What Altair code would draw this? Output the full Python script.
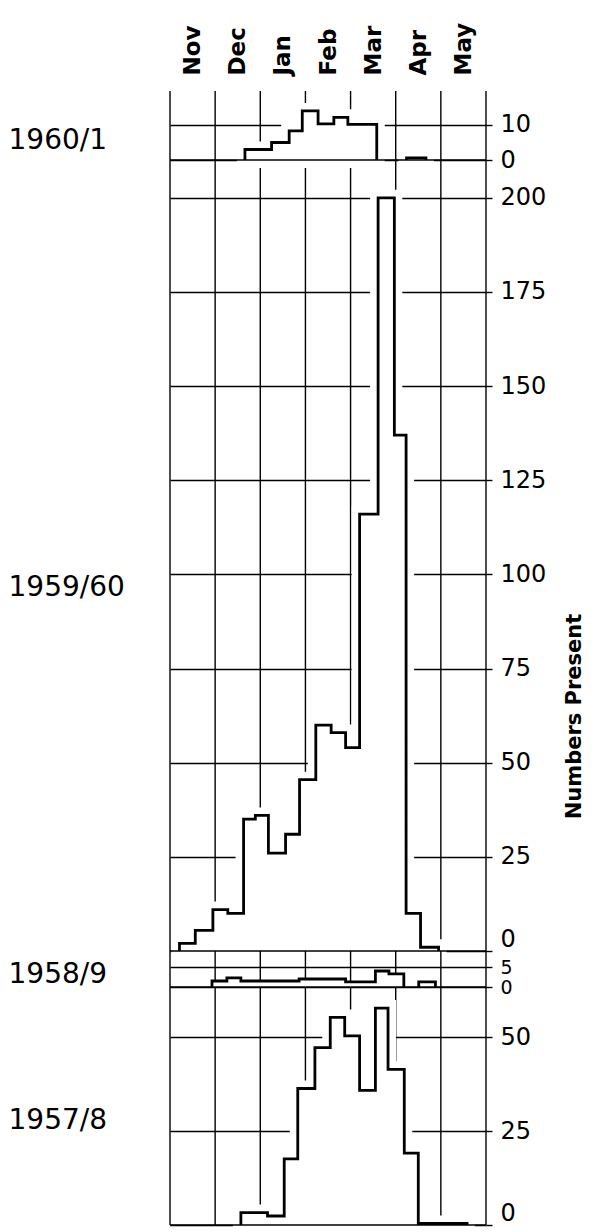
import json
import altair as alt
import pandas as pd

# ---------------- data ----------------
months = ["Nov", "Dec", "Jan", "Feb", "Mar", "Apr", "May"]
seasons = ["1960/1", "1959/60", "1958/9", "1957/8"]

# interval boundaries in month units (0 = start of Nov) and counts per interval
s1960_x = [1.66, 2.25, 2.64, 2.93, 3.28, 3.63, 3.94, 4.58, 5.24, 5.67]
s1960_n = [3, 5, 8.3, 14, 10.3, 12.2, 10.2, 0, 0.6]

s1959_x = [0.21, 0.56, 0.95, 1.28, 1.63, 1.89, 2.18, 2.56, 2.87, 3.23, 3.57,
           3.89, 4.20, 4.61, 4.97, 5.23, 5.55, 5.95]
s1959_n = [2, 5.5, 11, 10, 35, 36, 26, 31, 45.5, 60, 58, 54, 116, 200, 137, 10, 1]

s1958_x = [0.93, 1.26, 1.57, 2.86, 3.89, 4.55, 4.85, 5.18, 5.51, 5.88]
s1958_n = [1.5, 2.3, 1.5, 2.0, 1.3, 4.0, 3.3, 0, 1.3]

s1957_x = [1.57, 2.16, 2.53, 2.83, 3.21, 3.55, 3.87, 4.20, 4.55, 4.83, 5.19, 5.50, 6.58]
s1957_n = [3.3, 2.4, 17.6, 36.3, 47.2, 55.2, 50.3, 35.8, 57.7, 41.4, 19.1, 0.4]

# axis tick values per panel
ticks_1960 = [0, 10]
ticks_1959 = [0, 25, 50, 75, 100, 125, 150, 175, 200]
ticks_1958 = [0, 5]
ticks_1957 = [0, 25, 50]

FONT = "DejaVu Sans"
PLOT_W = 316


def step_points(xs, ns):
    rows = []
    seg, k, open_ = 0, 0, False
    for j, v in enumerate(ns):
        x0 = xs[j]
        if v == 0:
            if open_:
                rows.append({"x": x0, "n": 0, "seg": seg, "k": k}); k += 1
                seg += 1
                open_ = False
            continue
        if not open_:
            rows.append({"x": x0, "n": 0, "seg": seg, "k": k}); k += 1
            open_ = True
        rows.append({"x": x0, "n": v, "seg": seg, "k": k}); k += 1
    if open_:
        rows.append({"x": xs[-1], "n": 0, "seg": seg, "k": k})
    return pd.DataFrame(rows)


label_expr = json.dumps(months) + "[floor(datum.value)]"
title_style = dict(titleAngle=0, titleAlign="left", titleBaseline="middle", titleX=-162,
                   titleFont=FONT, titleFontSize=28, titleFontWeight="normal",
                   titleColor="black")


def x_axis(label, top, title_y):
    if top:
        return alt.Axis(
            orient="top", values=[i + 0.5 for i in range(len(months))],
            labelExpr=label_expr, labelAngle=270, labelAlign="left",
            labelBaseline="middle", labelPadding=16, ticks=False, domain=False,
            grid=False, labelFont=FONT, labelFontSize=23, labelFontWeight="bold",
            labelColor="black", title=label, titleY=title_y, **title_style)
    return alt.Axis(orient="bottom", labels=False, ticks=False, domain=False, grid=False,
                    title=label, titleY=title_y, **title_style)


def panel(xs, ns, label, ydom, yvals, height, title_y, top=False, ytitle=None,
          flush=False, mask=16, label_size=24):
    df = step_points(xs, ns)
    xscale = alt.Scale(domain=[0, len(months)], nice=False, zero=False)
    yscale = alt.Scale(domain=ydom, nice=False, zero=False)
    xaxis = x_axis(label, top, title_y)
    ykw = dict(
        orient="right", values=yvals, grid=True, gridColor="black", gridWidth=1.4,
        gridOpacity=1, ticks=True, tickSize=6, tickColor="black", tickWidth=1.4,
        domain=False, labelFont=FONT, labelFontSize=label_size, labelColor="black",
        labelPadding=8, labelOverlap=False, labelFlush=flush,
    )
    if ytitle:
        ykw.update(title=ytitle, titleAngle=270, titleX=88, titleY=543,
                   titleFont=FONT, titleFontSize=21, titleFontWeight="bold",
                   titleColor="black", titleAlign="center", titleBaseline="middle")
    else:
        ykw.update(title=None)
    yaxis = alt.Axis(**ykw)

    grid_df = pd.DataFrame({"x": list(range(len(months) + 1))})
    vrules = alt.Chart(grid_df).mark_rule(color="black", strokeWidth=1.4).encode(
        x=alt.X("x:Q", scale=xscale, axis=xaxis))
    area_kw = dict(interpolate="step-after", fill="white", opacity=1)
    if mask:
        area_kw.update(stroke="white", strokeWidth=mask, strokeJoin="miter")
    area = alt.Chart(df).mark_area(**area_kw).encode(
        x=alt.X("x:Q", scale=xscale, axis=xaxis),
        y=alt.Y("n:Q", scale=yscale, axis=yaxis),
        y2=alt.datum(0),
        detail="seg:N")
    base = alt.Chart(pd.DataFrame({"n": [0]})).mark_rule(color="black", strokeWidth=1.6).encode(
        y=alt.Y("n:Q", scale=yscale, axis=yaxis))
    line = alt.Chart(df).mark_line(interpolate="step-after", color="black",
                                   strokeWidth=2.8).encode(
        x=alt.X("x:Q", scale=xscale, axis=xaxis),
        y=alt.Y("n:Q", scale=yscale, axis=yaxis),
        detail="seg:N", order="k:Q")
    return alt.layer(vrules, area, base, line).properties(width=PLOT_W, height=height)


pA = panel(s1960_x, s1960_n, seasons[0], [-3.7, 19.7], ticks_1960, 82, 49, top=True)
pB = panel(s1959_x, s1959_n, seasons[1], [0, 206.6], ticks_1959, 778, -364,
           ytitle="Numbers Present", flush=True)
pC = panel(s1958_x, s1958_n, seasons[2], [0, 9], ticks_1958, 36, -13, mask=0, label_size=19)
pD = panel(s1957_x, s1957_n, seasons[3], [0, 63.3], ticks_1957, 238, -105, flush=True)

chart = alt.vconcat(pA, pB, pC, pD, spacing=0, bounds="flush").properties(
    padding={"left": 0, "top": 14, "right": 0, "bottom": 0}
).configure(background="white").configure_view(stroke=None)

chart.save("out.html", embed_options={"renderer": "svg", "actions": False})
